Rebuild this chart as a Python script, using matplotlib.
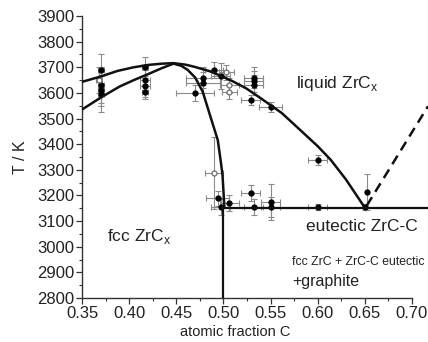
import matplotlib
matplotlib.use("Agg")
import matplotlib.pyplot as plt
from matplotlib.ticker import MultipleLocator

plt.rcParams['font.family'] = ['Liberation Sans', 'DejaVu Sans']

# liquidus curve
liq_x = [0.35, 0.37, 0.388, 0.405, 0.42, 0.435, 0.447, 0.46, 0.47, 0.485, 0.495, 0.51, 0.524, 0.54,
         0.562, 0.58, 0.60, 0.614, 0.63, 0.65]
liq_T = [3643, 3664, 3686, 3700, 3709, 3714, 3716, 3710, 3701, 3685, 3670, 3645, 3618, 3578,
         3521, 3460, 3392, 3338, 3262, 3152]
# solidus curve
sol_x = [0.35, 0.37, 0.39, 0.405, 0.42, 0.435, 0.447, 0.455, 0.462, 0.47, 0.478, 0.486, 0.494,
         0.497, 0.499, 0.50, 0.501]
sol_T = [3535, 3582, 3625, 3650, 3673, 3697, 3714, 3706, 3690, 3660, 3605, 3510, 3416,
         3338, 3280, 3220, 3152]
# vertical phase boundary & eutectic line
vert_x = [0.50, 0.50]
vert_T = [2800, 3152]
eut_x = [0.50, 0.717]
eut_T = [3152, 3152]
# dashed graphite liquidus
dash_x = [0.652, 0.717]
dash_T = [3160, 3548]

# filled measurements: x, T, xerr, Terr
fx = [0.37, 0.37, 0.37, 0.37, 0.417, 0.417, 0.417, 0.417, 0.478, 0.478, 0.47, 0.497, 0.49,
      0.532, 0.532, 0.532, 0.529, 0.55, 0.60, 0.652,
      0.494, 0.497, 0.506, 0.529, 0.532, 0.55, 0.55, 0.60, 0.65]
fT = [3690, 3630, 3610, 3595, 3700, 3650, 3625, 3605, 3660, 3640, 3600, 3665, 3690,
      3660, 3645, 3630, 3572, 3545, 3338, 3213,
      3189, 3155, 3170, 3209, 3155, 3173, 3155, 3155, 3155]
fxe = [0.003, 0.003, 0.003, 0.003, 0.003, 0.005, 0.005, 0.003, 0.018, 0.018, 0.02, 0.01, 0.01,
       0.01, 0.01, 0.01, 0.01, 0.012, 0.01, 0.0,
       0.012, 0.01, 0.01, 0.01, 0.01, 0.01, 0.01, 0.01, 0.0]
fTe = [60, 70, 60, 70, 40, 40, 40, 30, 40, 40, 30, 50, 30,
       40, 40, 40, 20, 20, 20, 70,
       30, 30, 30, 30, 30, 70, 40, 10, 10]
# open measurements
ox = [0.368, 0.506, 0.506, 0.503, 0.49]
oT = [3650, 3630, 3605, 3680, 3287]
oxe = [0.003, 0.01, 0.008, 0.008, 0.01]
oTe = [50, 30, 30, 30, 140]

fig = plt.figure(figsize=(4.28, 3.42), dpi=100)
ax = fig.add_axes([0.1916, 0.1287, 0.771, 0.8246])

ecol = '#8a8a8a'
ax.errorbar(fx, fT, xerr=fxe, yerr=fTe, fmt='o', color='black', ms=3.5,
            ecolor=ecol, elinewidth=0.8, capsize=2, capthick=0.8, zorder=3)
ax.errorbar(ox, oT, xerr=oxe, yerr=oTe, fmt='o', mfc='white', mec='#777777', ms=3.5,
            ecolor=ecol, elinewidth=0.8, capsize=2, capthick=0.8, zorder=3)

lc = '#111111'
ax.plot(liq_x, liq_T, color=lc, lw=1.8, zorder=4)
ax.plot(sol_x, sol_T, color=lc, lw=1.8, zorder=4)
ax.plot(vert_x, vert_T, color=lc, lw=1.6, zorder=4)
ax.plot(eut_x, eut_T, color=lc, lw=1.6, zorder=4, clip_on=False)
ax.plot(dash_x, dash_T, color=lc, lw=1.8, ls=(0, (4, 2.5)), zorder=4, clip_on=False)

ax.set_xlim(0.35, 0.70)
ax.set_ylim(2800, 3900)
ax.xaxis.set_major_locator(MultipleLocator(0.05))
ax.xaxis.set_minor_locator(MultipleLocator(0.025))
ax.yaxis.set_major_locator(MultipleLocator(100))
ax.yaxis.set_minor_locator(MultipleLocator(50))
ax.set_xticklabels([f"{v:.2f}" for v in ax.get_xticks()])
ax.spines['top'].set_visible(False)
ax.spines['right'].set_visible(False)
for s in ['left', 'bottom']:
    ax.spines[s].set_linewidth(1.0)
    ax.spines[s].set_color('#333333')
ax.tick_params(which='major', direction='out', length=4, width=0.9, labelsize=12,
               colors='#333333', labelcolor='#222222', pad=1.5)
ax.tick_params(which='minor', direction='out', length=2, width=0.8, colors='#333333')

ax.set_xlabel('atomic fraction C', fontsize=10.5, color='#222222')
ax.xaxis.set_label_coords(0.464, -0.095)
ax.set_ylabel('T / K', fontsize=11.5, color='#222222')
ax.yaxis.set_label_coords(-0.165, 0.5)

tc = '#222222'
ax.text(0.621, 3638, r'liquid ZrC$_\mathregular{x}$', fontsize=12.5, ha='center', va='center', color=tc)
ax.text(0.411, 3041, r'fcc ZrC$_\mathregular{x}$', fontsize=12.5, ha='center', va='center', color=tc)
ax.text(0.647, 3080, 'eutectic ZrC-C', fontsize=12.5, ha='center', va='center', color=tc,
        clip_on=False)
ax.text(0.573, 2942, 'fcc ZrC + ZrC-C eutectic', fontsize=8.8, ha='left', va='center',
        color=tc, clip_on=False)
ax.text(0.573, 2864, '+graphite', fontsize=11.5, ha='left', va='center',
        color=tc, clip_on=False)

fig.savefig('out.png', dpi=100)
